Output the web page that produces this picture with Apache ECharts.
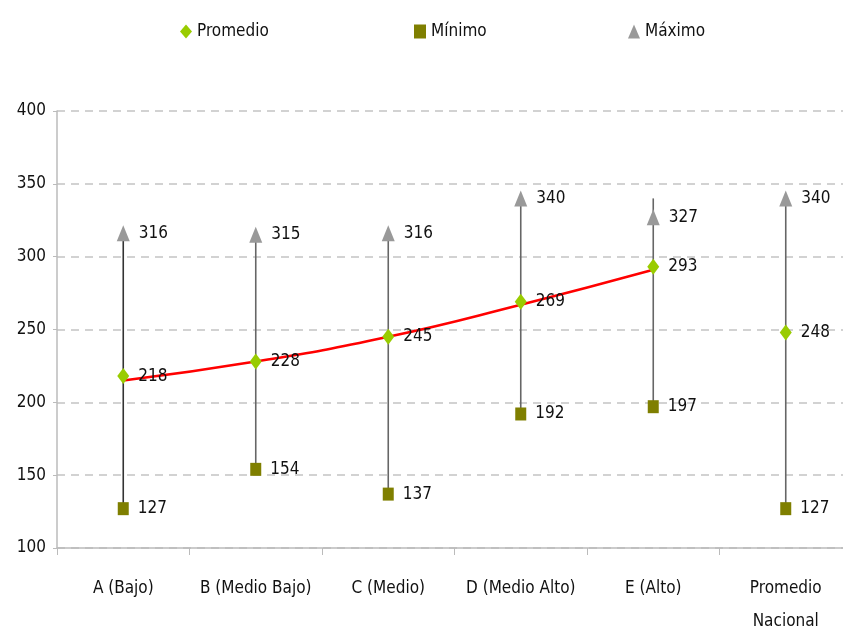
<!DOCTYPE html>
<html>
<head>
<meta charset="utf-8">
<script src="https://cdn.jsdelivr.net/npm/echarts@6/dist/echarts.min.js"></script>
<style>html,body{margin:0;padding:0;background:#fff;overflow:hidden}#c{width:843px;height:633px}</style>
</head>
<body>
<div id="c"></div>
<script>
const categories = ['A (Bajo)', 'B (Medio Bajo)', 'C (Medio)', 'D (Medio Alto)', 'E (Alto)', 'Promedio\nNacional'];
const promedio = [218, 228, 245, 269, 293, 248];
const minimo = [127, 154, 137, 192, 197, 127];
const maximo = [316, 315, 316, 340, 327, 340];
const lineTop = [316, 315, 316, 340, 340, 340];
const trend = [215, 228, 245, 267, 291];
const yTicks = { min: 100, max: 400, interval: 50 };

const FONT = '"DejaVu Sans Condensed", "Liberation Sans Narrow", "Arial Narrow", sans-serif';
const FS = 17;
const chart = echarts.init(document.getElementById('c'));
const lblStyle = { show: true, position: 'right', distance: 9, fontFamily: FONT, fontSize: FS, color: '#111' };
const legTxt = { fontFamily: FONT, fontSize: FS, color: '#111' };

chart.setOption({
  animation: false,
  textStyle: { fontFamily: FONT },
  legend: [
    { data: ['Promedio'], left: 175, top: 18, itemWidth: 12, itemHeight: 14, itemGap: 4, textStyle: legTxt },
    { data: ['Mínimo'], left: 409, top: 18, itemWidth: 12, itemHeight: 14, itemGap: 4, textStyle: legTxt },
    { data: ['Máximo'], left: 623, top: 18, itemWidth: 12, itemHeight: 14, itemGap: 4, textStyle: legTxt }
  ],
  grid: { left: 57, top: 111, width: 795, height: 437, containLabel: false, outerBoundsMode: 'none' },
  xAxis: {
    type: 'category',
    data: categories,
    boundaryGap: true,
    axisLine: { lineStyle: { color: '#bbbbbb', width: 1.5 } },
    axisTick: { show: true, length: 7, lineStyle: { color: '#bbbbbb' } },
    axisLabel: { fontFamily: FONT, fontSize: FS, color: '#111', margin: 24, lineHeight: 33, interval: 0 }
  },
  yAxis: {
    type: 'value',
    min: yTicks.min, max: yTicks.max, interval: yTicks.interval,
    axisLine: { show: true, lineStyle: { color: '#bbbbbb', width: 1.5 } },
    axisTick: { show: true, length: 4, lineStyle: { color: '#bbbbbb' } },
    axisLabel: { fontFamily: FONT, fontSize: FS, color: '#111', margin: 11 },
    splitLine: { lineStyle: { color: '#c4c4c4', type: [8, 6], width: 1.5 } }
  },
  series: [
    {
      type: 'custom',
      name: 'rango',
      data: categories.map((c, i) => [i, minimo[i], lineTop[i]]),
      encode: { x: 0, y: [1, 2] },
      renderItem: function (params, api) {
        const i = api.value(0);
        const p1 = api.coord([i, api.value(1)]);
        const p2 = api.coord([i, api.value(2)]);
        return { type: 'line', shape: { x1: p1[0], y1: p1[1], x2: p2[0], y2: p2[1] }, style: { stroke: i === 0 ? '#333333' : '#666666', lineWidth: 1.6 } };
      },
      z: 1
    },
    {
      type: 'line',
      name: 'tendencia',
      data: trend,
      smooth: true,
      symbol: 'none',
      lineStyle: { color: '#ff0000', width: 2.5 },
      z: 3
    },
    {
      type: 'scatter', name: 'Máximo', data: maximo,
      symbol: 'triangle', symbolSize: [13, 16],
      itemStyle: { color: '#999999', opacity: 1 }, label: lblStyle, z: 4
    },
    {
      type: 'scatter', name: 'Mínimo', data: minimo,
      symbol: 'rect', symbolSize: [11, 13],
      itemStyle: { color: '#7f7f00', opacity: 1 }, label: lblStyle, z: 4
    },
    {
      type: 'scatter', name: 'Promedio', data: promedio,
      symbol: 'diamond', symbolSize: [12, 16],
      itemStyle: { color: '#99cc00', opacity: 1 }, label: lblStyle, z: 5
    }
  ]
});
</script>
</body>
</html>
